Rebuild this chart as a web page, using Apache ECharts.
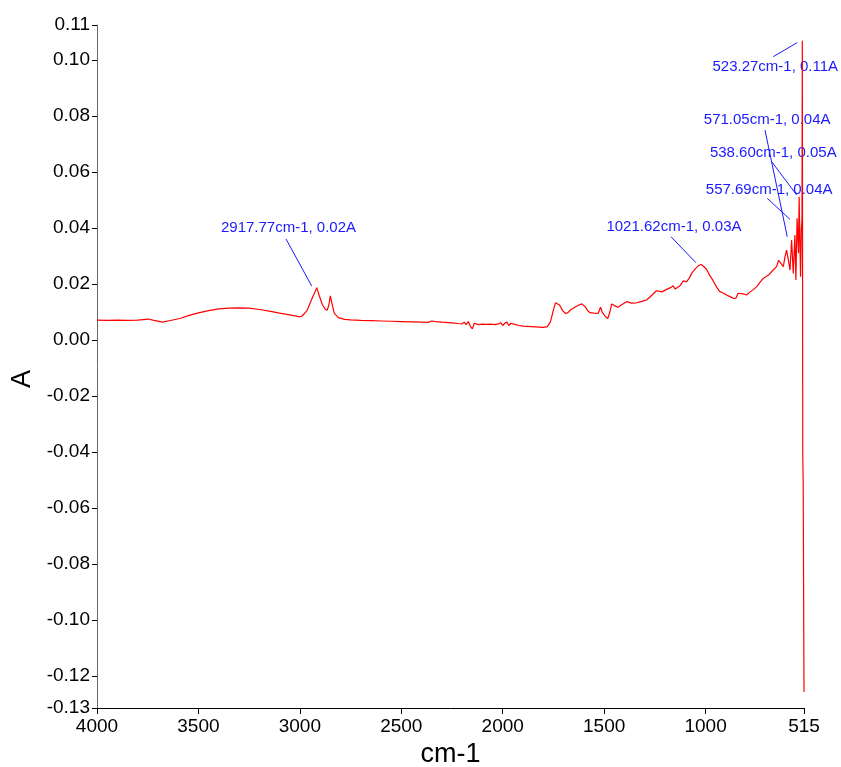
<!DOCTYPE html>
<html>
<head>
<meta charset="utf-8">
<style>
html,body{margin:0;padding:0;background:#fff;}
#chart{width:841px;height:767px;}
</style>
<script src="https://cdn.jsdelivr.net/npm/echarts@6/dist/echarts.min.js"></script>
</head>
<body>
<div id="chart"></div>
<script>
// Spectrum: wavenumber (cm-1) and absorbance (A)
const wavenumbers = [
  4000,3950,3900,3850,3800,3745,3720,3676,3650,3591,3550,3500,3450,3400,3350,3300,3250,3200,3150,3100,3050,3000,
  2990,2965,2940,2925,2917,2905,2890,2875,2865,2857,2850,2847,2840,2830,2810,2780,2750,2700,2650,2600,2550,2500,
  2450,2400,2370,2350,2330,2300,2250,2220,2200,2190,2180,2170,2160,2150,2140,2120,2100,2080,2060,2040,2020,2010,
  2000,1990,1980,1970,1960,1940,1920,1900,1880,1860,1840,1820,1800,1780,1765,1760,1750,1740,1733,1720,1705,1690,
  1680,1665,1645,1625,1610,1595,1580,1570,1550,1530,1518,1510,1495,1482,1472,1463,1450,1432,1410,1389,1365,1340,
  1315,1291,1265,1242,1215,1192,1170,1160,1150,1143,1125,1110,1094,1080,1069,1050,1035,1022,1008,995,979,963,
  945,930,913,897,880,864,850,840,831,815,798,780,765,749,733,716,690,667,650,640,634,625,617,608,601,593,
  584,576,568,560,555,549,542,539,532,528,525,523.3,521,519,515
];
const absorbance = [
  0.0071,0.0070,0.0071,0.0070,0.0071,0.0075,0.0070,0.0064,0.0068,0.0077,0.0087,0.0097,0.0105,0.0111,0.0114,0.0115,0.0114,0.0109,0.0103,0.0096,0.0090,0.0083,
  0.0085,0.0105,0.0148,0.0172,0.0187,0.0160,0.0128,0.0110,0.0107,0.0125,0.0158,0.0160,0.0125,0.0095,0.0080,0.0074,0.0072,0.0070,0.0069,0.0068,0.0067,0.0066,
  0.0065,0.0064,0.0063,0.0068,0.0066,0.0064,0.0061,0.0059,0.0058,0.0064,0.0055,0.0066,0.0050,0.0040,0.0060,0.0055,0.0057,0.0056,0.0057,0.0055,0.0058,0.0062,
  0.0052,0.0060,0.0064,0.0052,0.0060,0.0056,0.0052,0.0050,0.0049,0.0048,0.0047,0.0046,0.0045,0.0048,0.0065,0.0079,0.0108,0.0133,0.0140,0.0125,0.0105,0.0095,
  0.0097,0.0108,0.0117,0.0125,0.0129,0.0120,0.0104,0.0098,0.0096,0.0095,0.0117,0.0100,0.0085,0.0077,0.0100,0.0129,0.0123,0.0117,0.0128,0.0137,0.0132,0.0133,
  0.0138,0.0143,0.0160,0.0176,0.0172,0.0181,0.0188,0.0194,0.0182,0.0176,0.0195,0.0211,0.0208,0.0222,0.0238,0.0255,0.0266,0.0270,0.0262,0.0252,0.0230,0.0212,
  0.0188,0.0173,0.0168,0.0161,0.0155,0.0149,0.0150,0.0167,0.0173,0.0165,0.0161,0.0172,0.0180,0.0190,0.0205,0.0220,0.0232,0.0250,0.0262,0.0285,0.0292,0.0270,0.0262,0.0300,0.0321,0.0290,
  0.0250,0.0357,0.0238,0.0375,0.0214,0.0435,0.0310,0.0512,0.0226,0.0400,0.0429,0.1069,-0.0420,-0.0510,-0.1257
];

// Axis ticks
const xTicks = [4000,3500,3000,2500,2000,1500,1000,515];
const yMin = -0.1314, yMax = 0.1125;
const yTicks = [yMax,0.10,0.08,0.06,0.04,0.02,0.00,-0.02,-0.04,-0.06,-0.08,-0.10,-0.12,yMin];

// Peak annotations (data coordinates)
const annoTexts = ['2917.77cm-1, 0.02A','1021.62cm-1, 0.03A','523.27cm-1, 0.11A','571.05cm-1, 0.04A','538.60cm-1, 0.05A','557.69cm-1, 0.04A'];
const annoTextAt = [[3056,0.0400],[1156,0.0404],[656.6,0.0976],[696.6,0.0786],[666.5,0.0669],[686.7,0.0538]];
const annoLineFrom = [[3068.4,0.0361],[1170.7,0.0369],[666.5,0.1012],[707.4,0.0750],[674.4,0.0637],[696.1,0.0506]];
const annoLineTo = [[2941.7,0.0193],[1047.5,0.0276],[548.3,0.1062],[597.5,0.0369],[551.1,0.0518],[584.2,0.0431]];

const font = 'Liberation Sans, Arial, sans-serif';
const blue = '#1a1aff';

const chart = echarts.init(document.getElementById('chart'), null, {renderer:'canvas'});
chart.setOption({
  animation:false,
  backgroundColor:'#fff',
  grid:{left:97,right:37,top:25,bottom:59,containLabel:false,outerBoundsMode:'none'},
  xAxis:{
    type:'value', min:515, max:4000, inverse:true,
    name:'cm-1', nameLocation:'middle', nameGap:31,
    nameTextStyle:{fontFamily:font,fontSize:27,color:'#000'},
    axisLine:{show:true,onZero:false,lineStyle:{color:'#000',width:1}},
    axisTick:{show:true,inside:false,length:6,customValues:xTicks,lineStyle:{color:'#000'}},
    axisLabel:{show:true,customValues:xTicks,margin:9,fontFamily:font,fontSize:19,color:'#000',showMinLabel:true,showMaxLabel:true,
      formatter:function(v){return String(Math.round(v));}},
    splitLine:{show:false}
  },
  yAxis:{
    type:'value', min:yMin, max:yMax,
    name:'A', nameLocation:'middle', nameGap:61,
    nameTextStyle:{fontFamily:font,fontSize:27,color:'#000',padding:[0,25,0,0]},
    axisLine:{show:true,onZero:false,lineStyle:{color:'#666',width:1}},
    axisTick:{show:true,inside:false,length:5,customValues:yTicks,lineStyle:{color:'#000'}},
    axisLabel:{show:true,customValues:yTicks,margin:7,fontFamily:font,fontSize:19,color:'#000',
      formatter:function(v){return v.toFixed(2);}},
    splitLine:{show:false}
  },
  series:[
    {
      type:'line',
      data:wavenumbers.map(function(w,i){return [w,absorbance[i]];}),
      showSymbol:false, symbol:'none',
      lineStyle:{color:'#ff0000',width:1.2},
      silent:true
    },
    {
      type:'scatter',
      symbolSize:1,
      itemStyle:{color:'rgba(0,0,0,0)',opacity:1},
      silent:true,
      data:annoTextAt.map(function(p,i){return {value:[p[0],p[1]],name:annoTexts[i]};}),
      label:{show:true,position:'inside',formatter:'{b}',fontFamily:font,fontSize:15,color:blue,opacity:1},
      markLine:{
        silent:true, symbol:['none','none'],
        label:{show:false},
        lineStyle:{color:blue,width:1,type:'solid',opacity:1},
        data:annoLineFrom.map(function(p,i){return [{coord:p},{coord:annoLineTo[i]}];})
      }
    }
  ]
});
</script>
</body>
</html>
